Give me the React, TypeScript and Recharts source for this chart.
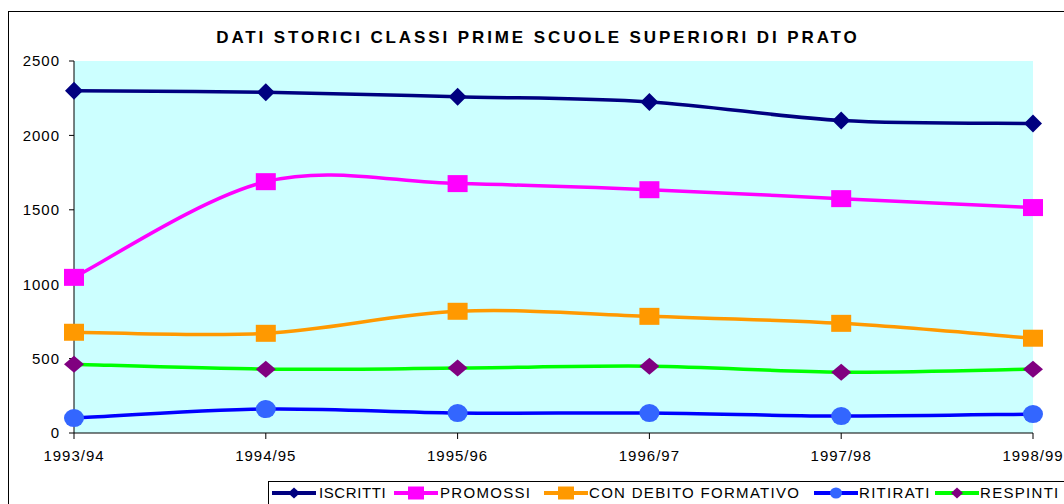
import { LineChart, Line, XAxis, YAxis, CartesianGrid } from 'recharts';

const FONT = 'Arial, "Liberation Sans", sans-serif';

// school years on the category axis
const categories = ['1993/94', '1994/95', '1995/96', '1996/97', '1997/98', '1998/99'];

// values
const iscritti = [2300, 2290, 2260, 2225, 2100, 2080];
const promossi = [1046, 1689, 1676, 1635, 1575, 1515];
const debito = [677, 670, 818, 784, 737, 637];
const ritirati = [100, 161, 134, 134, 114, 127];
const respinti = [462, 429, 436, 449, 409, 429];

const yTicks = [0, 500, 1000, 1500, 2000, 2500];

type Shape = 'diamond' | 'square' | 'circle';

interface SeriesDef {
  key: string;
  label: string;
  line: string;
  fill: string;
  shape: Shape;
  w: number;
  h: number;
}

const series: SeriesDef[] = [
  { key: 'iscritti', label: 'ISCRITTI', line: '#000080', fill: '#000080', shape: 'diamond', w: 18, h: 18 },
  { key: 'promossi', label: 'PROMOSSI', line: '#FF00FF', fill: '#FF00FF', shape: 'square', w: 20, h: 17 },
  { key: 'debito', label: 'CON DEBITO FORMATIVO', line: '#FF9900', fill: '#FF9900', shape: 'square', w: 20, h: 17 },
  { key: 'ritirati', label: 'RITIRATI', line: '#0000FF', fill: '#3366FF', shape: 'circle', w: 20, h: 18 },
  { key: 'respinti', label: 'RESPINTI', line: '#00FF00', fill: '#800080', shape: 'diamond', w: 20, h: 17 },
];

// legend item positions (page x of icon start, text start)
const legendIconX = [272, 394, 544, 814, 935];
const legendTextX = [319, 440, 589, 859, 980];

// excel-like smoothing (catmull-rom with 1/6 tangents)
function excelSmooth(context: any) {
  let pts: number[][] = [];
  return {
    areaStart() {},
    areaEnd() {},
    lineStart() {
      pts = [];
    },
    point(x: number, y: number) {
      pts.push([+x, +y]);
    },
    lineEnd() {
      if (!pts.length) return;
      context.moveTo(pts[0][0], pts[0][1]);
      for (let i = 0; i < pts.length - 1; i++) {
        const p0 = pts[i - 1] || pts[i];
        const p1 = pts[i];
        const p2 = pts[i + 1];
        const p3 = pts[i + 2] || p2;
        const t = 1 / 6;
        context.bezierCurveTo(
          p1[0] + (p2[0] - p0[0]) * t,
          p1[1] + (p2[1] - p0[1]) * t,
          p2[0] - (p3[0] - p1[0]) * t,
          p2[1] - (p3[1] - p1[1]) * t,
          p2[0],
          p2[1]
        );
      }
    },
  };
}

function marker(shape: Shape, cx: number, cy: number, w: number, h: number, fill: string, key?: any) {
  if (shape === 'diamond') {
    const pts = `${cx},${cy - h / 2} ${cx + w / 2},${cy} ${cx},${cy + h / 2} ${cx - w / 2},${cy}`;
    return <polygon key={key} points={pts} fill={fill} />;
  }
  if (shape === 'square') {
    return <rect key={key} x={cx - w / 2} y={cy - h / 2} width={w} height={h} fill={fill} />;
  }
  return <ellipse key={key} cx={cx} cy={cy} rx={w / 2} ry={h / 2} fill={fill} />;
}

function makeDot(s: SeriesDef) {
  return (props: any) => {
    const { cx, cy, index } = props;
    return marker(s.shape, cx, cy, s.w, s.h, s.fill, `${s.key}-${index}`);
  };
}

export default function App() {
  const data = categories.map((name, i) => ({
    name,
    iscritti: iscritti[i],
    promossi: promossi[i],
    debito: debito[i],
    ritirati: ritirati[i],
    respinti: respinti[i],
  }));

  const axisTick = { fill: '#000', fontSize: 15, fontFamily: FONT, letterSpacing: 1 };

  return (
    <div
      style={{
        position: 'fixed',
        left: 8,
        top: 11,
        width: 1056,
        height: 493,
        borderLeft: '1px solid #000',
        borderTop: '1px solid #000',
        fontFamily: FONT,
        overflow: 'hidden',
        background: '#fff',
      }}
    >
      <div
        style={{
          position: 'absolute',
          left: 0,
          top: 16,
          width: 1055,
          textAlign: 'center',
          fontSize: 17,
          fontWeight: 'bold',
          letterSpacing: 2.9,
          paddingLeft: 2.9,
          boxSizing: 'border-box',
          lineHeight: '20px',
        }}
      >
        DATI STORICI CLASSI PRIME SCUOLE SUPERIORI DI PRATO
      </div>

      <LineChart width={1055} height={492} data={data} margin={{ top: 49, right: 31, bottom: 41, left: 10 }}>
        <CartesianGrid horizontal={false} vertical={false} fill="#CCFFFF" />
        <XAxis
          dataKey="name"
          interval={0}
          axisLine={{ stroke: '#000' }}
          tickLine={{ stroke: '#000' }}
          tickSize={6}
          tickMargin={11}
          tick={axisTick}
          height={30}
        />
        <YAxis
          domain={[0, 2500]}
          ticks={yTicks}
          interval={0}
          axisLine={{ stroke: '#000' }}
          tickLine={{ stroke: '#000' }}
          tickSize={5}
          tickMargin={9}
          tick={axisTick}
          width={55}
        />
        {series.map((s) => (
          <Line
            key={s.key}
            dataKey={s.key}
            type={excelSmooth as any}
            stroke={s.line}
            strokeWidth={3.5}
            dot={makeDot(s)}
            activeDot={false}
            isAnimationActive={false}
          />
        ))}
      </LineChart>

      <div
        style={{
          position: 'absolute',
          left: 259,
          top: 469,
          width: 900,
          height: 60,
          border: '1px solid #000',
          background: '#fff',
        }}
      />
      {series.map((s, i) => (
        <div key={s.key}>
          <svg
            width={44}
            height={20}
            style={{ position: 'absolute', left: legendIconX[i] - 9, top: 471 }}
          >
            <line x1={0} x2={44} y1={10} y2={10} stroke={s.line} strokeWidth={4} />
            {marker(s.shape, 22, 10, s.shape === 'square' ? 16 : 12, s.shape === 'square' ? 13 : 11, s.fill)}
          </svg>
          <div
            style={{
              position: 'absolute',
              left: legendTextX[i] - 9,
              top: 471,
              fontSize: 15,
              lineHeight: '20px',
              letterSpacing: i === 0 ? 0.6 : 1.3,
              whiteSpace: 'nowrap',
            }}
          >
            {s.label}
          </div>
        </div>
      ))}
    </div>
  );
}
